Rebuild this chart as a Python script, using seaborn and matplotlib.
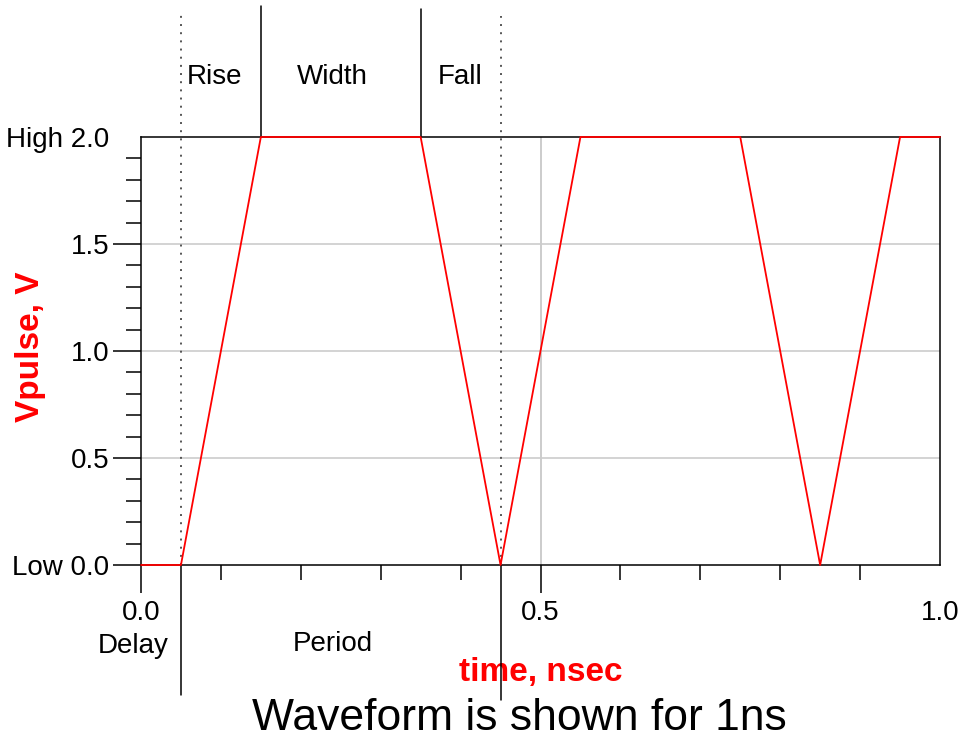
import numpy as np
import pandas as pd
import seaborn as sns
import matplotlib.pyplot as plt
from matplotlib.ticker import MultipleLocator, FixedLocator

# waveform (ns, V)
time_ns = [0.0, 0.05, 0.15, 0.35, 0.45, 0.55, 0.75, 0.85, 0.95, 1.0]
vpulse = [0.0, 0.0, 2.0, 2.0, 0.0, 2.0, 2.0, 0.0, 2.0, 2.0]

# pulse parameter markers
delay_end = 0.05
rise_end = 0.15
width_end = 0.35
fall_end = 0.45

y_ticks = [0.0, 0.5, 1.0, 1.5, 2.0]
y_ticklabels = ["Low 0.0", "0.5", "1.0", "1.5", "High 2.0"]
x_ticks = [0.0, 0.5, 1.0]
x_ticklabels = ["0.0", "0.5", "1.0"]

df = pd.DataFrame({"time": time_ns, "vpulse": vpulse})

sns.set_style("white")
plt.rcParams["font.family"] = ["Liberation Sans", "DejaVu Sans"]
plt.rcParams.update({
    "text.color": "black",
    "axes.labelcolor": "black",
    "xtick.color": "black",
    "ytick.color": "black",
})
FS = 20

fig = plt.figure(figsize=(9.61, 7.40), dpi=100)
ax = fig.add_axes([141 / 961, 1 - 565 / 740, 799 / 961, 428 / 740])

sns.lineplot(data=df, x="time", y="vpulse", ax=ax, color="#ff0000",
             linewidth=1.3, zorder=5, clip_on=False)

ax.set_xlim(0, 1.0)
ax.set_ylim(0, 2.0)

# grid: horizontal at interior majors, vertical only at 0.5
for yv in y_ticks[1:-1]:
    ax.axhline(yv, color="#cccccc", lw=1.2, zorder=1)
ax.axvline(0.5, color="#cccccc", lw=1.4, zorder=1)

for s in ax.spines.values():
    s.set_color("black")
    s.set_linewidth(1.1)

ax.yaxis.set_major_locator(FixedLocator(y_ticks))
ax.set_yticklabels(y_ticklabels)
ax.yaxis.set_minor_locator(MultipleLocator(0.1))
ax.xaxis.set_major_locator(FixedLocator(x_ticks))
ax.set_xticklabels(x_ticklabels)
ax.xaxis.set_minor_locator(FixedLocator([0.1, 0.2, 0.3, 0.4, 0.6, 0.7, 0.8, 0.9]))

ax.tick_params(axis="y", which="major", direction="out", length=20, width=1.1,
               labelsize=FS, pad=3, left=True)
ax.tick_params(axis="y", which="minor", direction="out", length=11, width=1.1,
               left=True)
ax.tick_params(axis="x", which="major", direction="out", length=20, width=1.1,
               labelsize=FS, pad=5, bottom=True)
ax.tick_params(axis="x", which="minor", direction="out", length=11, width=1.1,
               bottom=True)
ax.xaxis.get_major_ticks()[-1].tick1line.set_visible(False)
ax.yaxis.get_major_ticks()[-1].tick1line.set_visible(False)

ax.set_xlabel("time, nsec", color="#ff0000", fontsize=24, fontweight="bold")
ax.xaxis.set_label_coords(0.5, -0.252)
ax.xaxis.label.set_verticalalignment("center")
ax.set_ylabel("Vpulse, V", color="#ff0000", fontsize=24, fontweight="bold")
ax.yaxis.set_label_coords(-0.138, 0.51)
ax.yaxis.label.set_verticalalignment("center")

# parameter marker lines, reaching outside the frame
tr = ax.get_xaxis_transform()
dot = (0, (1, 3.2))
ax.plot([delay_end, delay_end], [0, 1.297], transform=tr, color="#555555",
        lw=1.4, ls=dot, clip_on=False, zorder=3)
ax.plot([fall_end, fall_end], [0, 1.283], transform=tr, color="#555555",
        lw=1.4, ls=dot, clip_on=False, zorder=3)
ax.plot([rise_end, rise_end], [1.0, 1.306], transform=tr, color="black",
        lw=1.1, clip_on=False)
ax.plot([width_end, width_end], [1.0, 1.299], transform=tr, color="black",
        lw=1.1, clip_on=False)
ax.plot([delay_end, delay_end], [0, -0.304], transform=tr, color="black",
        lw=1.1, clip_on=False)
ax.plot([fall_end, fall_end], [0, -0.315], transform=tr, color="black",
        lw=1.1, clip_on=False)

# parameter names
ax.text(0.092, 1.14, "Rise", transform=tr, ha="center", va="center", fontsize=FS)
ax.text(0.24, 1.14, "Width", transform=tr, ha="center", va="center", fontsize=FS)
ax.text(0.40, 1.14, "Fall", transform=tr, ha="center", va="center", fontsize=FS)
ax.text(-0.01, -0.19, "Delay", transform=tr, ha="center", va="center", fontsize=FS)
ax.text(0.24, -0.185, "Period", transform=tr, ha="center", va="center", fontsize=FS)

fig.text(519 / 961, 1 - 718 / 740, "Waveform is shown for 1ns", ha="center",
         va="center", fontsize=32, color="black")

fig.savefig("out.png", dpi=100)
